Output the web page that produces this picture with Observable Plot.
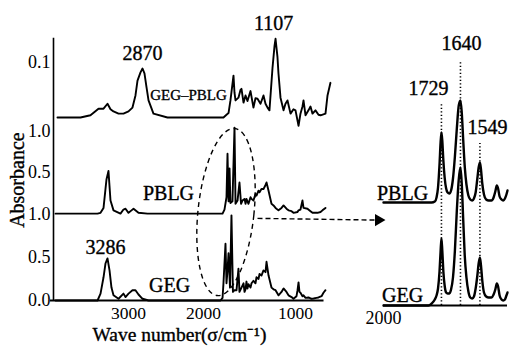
<!DOCTYPE html>
<html><head><meta charset="utf-8">
<script src="https://cdn.jsdelivr.net/npm/d3@7"></script>
<script src="https://cdn.jsdelivr.net/npm/@observablehq/plot@0.6"></script>
<style>
body{margin:0;background:#fff;}
#wrap{position:relative;width:511px;height:352px;overflow:hidden;}
#wrap svg{position:absolute;top:0;}
</style></head><body><div id="wrap"></div>
<script>
// ---- Main panel data (wave number cm^-1, absorbance) ----
const gegWn  = [3973,3413,3373,3333,3307,3280,3253,3227,3200,3133,3067,3040,3000,2947,2907,2867,2813,2733,1815,1793,1783,1761,1750,1739,1728,1712,1696,1680,1663,1641,1620,1609,1587,1565,1554,1543,1533,1522,1511,1489,1478,1457,1435,1424,1402,1391,1370,1348,1326,1315,1293,1261,1239,1217,1185,1152,1130,1098,1076,1043,1022,989,978,967,957,946,924,913,891,859,826,804,772,750,717,696,674];
const gegAbs = [0,0,0.08,0.27,0.43,0.49,0.35,0.15,0.06,0.02,0.08,0.04,0.08,0.12,0.12,0.07,0.02,0,0,0.03,0.2,0.66,0.2,0.35,0.55,0.15,0.99,0.1,0.12,0.12,0.37,0.1,0.15,0.2,0.1,0.13,0.22,0.14,0.19,0.15,0.2,0.23,0.2,0.27,0.25,0.31,0.29,0.35,0.33,0.45,0.29,0.15,0.13,0.12,0.06,0.1,0.14,0.1,0.06,0.04,0.02,0.05,0.12,0.21,0.1,0.09,0.05,0.06,0.03,0.035,0.02,0.023,0.03,0.035,0.05,0.09,0.12];

const pblgWn  = [3973,3413,3373,3333,3307,3293,3267,3240,3200,3107,3067,3040,3000,2960,2933,2867,2747,1793,1772,1750,1739,1728,1717,1707,1685,1663,1652,1630,1609,1592,1576,1554,1543,1533,1511,1489,1478,1457,1435,1424,1402,1391,1370,1348,1326,1315,1293,1261,1239,1217,1185,1152,1130,1098,1076,1043,1022,978,967,946,924,913,870,837,815,761,728,707,674];
const pblgAbs = [0,0,0.01,0.07,0.3,0.42,0.52,0.16,0.04,0,0.05,0.06,0.01,0.04,0.06,0.01,0,0,0.05,0.2,0.73,0.15,0.55,0.13,0.15,1.05,0.12,0.16,0.38,0.12,0.16,0.18,0.12,0.18,0.12,0.2,0.18,0.16,0.24,0.22,0.28,0.26,0.3,0.3,0.35,0.38,0.28,0.12,0.1,0.07,0.04,0.07,0.1,0.06,0.04,0.03,0.01,0.02,0.04,0.05,0.16,0.07,0.06,0.03,0.01,0.01,0.02,0.04,0.07];

const mixWn  = [3947,3640,3507,3400,3333,3280,3240,3200,3133,3067,3000,2947,2907,2880,2840,2813,2787,2760,2733,2667,2480,1783,1750,1728,1707,1674,1663,1652,1620,1598,1587,1565,1543,1522,1489,1457,1435,1413,1380,1348,1326,1304,1283,1250,1228,1217,1196,1185,1163,1130,1109,1087,1054,1022,1000,967,946,924,913,891,859,837,815,783,750,728,674,652,620];
const mixAbs = [0,0,0.004,0.016,0.016,0.025,0.015,0.011,0.007,0.007,0.011,0.018,0.04,0.067,0.082,0.089,0.08,0.055,0.031,0.007,0,0,0.005,0.008,0.031,0.076,0.045,0.031,0.036,0.05,0.052,0.027,0.04,0.03,0.048,0.018,0.035,0.034,0.025,0.04,0.025,0.018,0.013,0.09,0.13,0.143,0.11,0.08,0.036,0.013,0.025,0.031,0.007,0.015,0.013,-0.015,0.007,0.02,0.031,0.004,0.013,0.02,0.007,0.013,0.005,0.004,0.007,0.04,0.063];

// ---- Inset (expanded 2000–1420 cm^-1) ----
const insetWn  = [2000,1800,1790,1775,1760,1752,1745,1738,1733,1729,1725,1720,1714,1707,1700,1692,1684,1675,1666,1657,1648,1640,1634,1627,1620,1612,1603,1594,1585,1577,1569,1561,1555,1549,1544,1538,1530,1520,1508,1495,1485,1477,1470,1464,1457,1448,1440,1432,1425,1420];
const insetPblg = [0,0,0,0,0.01,0.05,0.15,0.38,0.6,0.7,0.62,0.42,0.25,0.14,0.1,0.09,0.12,0.24,0.46,0.74,0.97,1.02,0.9,0.62,0.36,0.18,0.07,0.03,0.02,0.04,0.1,0.24,0.35,0.4,0.33,0.19,0.08,0.03,0.02,0.02,0.05,0.11,0.17,0.14,0.06,0.03,0.02,0.04,0.08,0.12];
const insetGeg  = [0,0,0,0.02,0.06,0.1,0.17,0.34,0.54,0.67,0.55,0.34,0.2,0.13,0.12,0.12,0.16,0.28,0.55,0.95,1.26,1.38,1.22,0.85,0.5,0.28,0.14,0.08,0.07,0.09,0.17,0.3,0.42,0.48,0.4,0.25,0.13,0.09,0.08,0.08,0.11,0.16,0.22,0.19,0.1,0.06,0.05,0.06,0.1,0.13];
const insetPeaks = [1729, 1640, 1549];
const insetPeakText = ["1729", "1640", "1549"];

// ---- Axis tick labels ----
const xTicks = [3000, 2000, 1000];
const yTickText = ["0.0", "0.5", "1.0", "0.5", "1.0", "0.1"];

// stacking of the three spectra (vertical offsets in plot units)
const stack = {geg: {off: 0, k: 1}, pblg: {off: 1.01, k: 0.953}, mix: {off: 2.128, k: 6.4}};
const rows = (wn, ab, s) => wn.map((w, i) => ({x: w, y: s.off + s.k * ab[i]}));
const yTickVals = [0, 0.5, 1.0, stack.pblg.off + 0.5 * stack.pblg.k, stack.pblg.off + 1.0 * stack.pblg.k, stack.mix.off + 0.1 * stack.mix.k];
const yLab = new Map(yTickVals.map((v, i) => [v, yTickText[i]]));

const font = "Liberation Serif, Times New Roman, serif";
const lw = 1.9;
const ink = {fill: "black", stroke: "black", strokeWidth: 0.35};

const main = Plot.plot({
  width: 511, height: 352,
  marginLeft: 53, marginRight: 179, marginTop: 0, marginBottom: 52,
  style: {fontFamily: font, fontSize: "18px", color: "#000", background: "white"},
  x: {type: "linear", domain: [4000, 3000, 2000, 1000, 600], range: [53, 128, 203, 295, 331.8]},
  y: {domain: [0, 300 / 86], range: [300, 0]},
  marks: [
    Plot.ruleY([0], {x1: 4040, x2: 690, stroke: "black", strokeWidth: 1.9}),
    Plot.ruleX([4000], {y1: 0, y2: 3.05, stroke: "black", strokeWidth: 1.6}),
    Plot.axisX({ticks: xTicks, tickSize: 0, tickPadding: 6, fontSize: 17.5, label: null, tickFormat: d => String(d), ...ink}),
    Plot.axisY({ticks: yTickVals, tickSize: 0, tickPadding: 3, fontSize: 18, label: null, tickFormat: d => yLab.get(d), ...ink}),
    Plot.line(rows(gegWn, gegAbs, stack.geg), {x: "x", y: "y", stroke: "black", strokeWidth: lw, strokeLinejoin: "round"}),
    Plot.line(rows(pblgWn, pblgAbs, stack.pblg), {x: "x", y: "y", stroke: "black", strokeWidth: lw, strokeLinejoin: "round"}),
    Plot.line(rows(mixWn, mixAbs, stack.mix), {x: "x", y: "y", stroke: "black", strokeWidth: lw, strokeLinejoin: "round"}),
    Plot.link([{x1: 1413, y1: 0.955, x2: 110, y2: 0.935}], {x1: "x1", y1: "y1", x2: "x2", y2: "y2", stroke: "black", strokeWidth: 1.4, strokeDasharray: "5,3"}),
    Plot.dot([{x: 98, y: 0.935}], {x: "x", y: "y", symbol: "triangle", r: 4.5, fill: "black", stroke: "none", rotate: 90}),
    Plot.text([{t: "3286", x: 3307, y: 0.616}, {t: "2870", x: 2813, y: 2.872}, {t: "1107", x: 1239, y: 3.22}],
      {x: "x", y: "y", text: "t", fontSize: 20, ...ink}),
    Plot.text([{t: "GEG–PBLG", x: 2200, y: 2.384, s: 15}, {t: "PBLG", x: 2467, y: 1.244, s: 20}, {t: "GEG", x: 2453, y: 0.174, s: 20}],
      {x: "x", y: "y", text: "t", fontSize: "s", ...ink}),
    Plot.text(["Absorbance"], {x: 4480, y: 1.40, text: d => d, rotate: -90, fontSize: 20, ...ink}),
    Plot.text(["Wave number(σ/cm⁻¹)"], {x: 2320, y: -0.40, text: d => d, fontSize: 19.5, ...ink})
  ]
});

// dashed ellipse marking the expanded region, placed through the plot's scales
const sx = main.scale("x"), sy = main.scale("y");
const cx = sx.apply(1750), cy = sy.apply(1.023);
d3.select(main).append("ellipse")
  .attr("cx", cx).attr("cy", cy).attr("rx", 28).attr("ry", 84)
  .attr("transform", `rotate(6 ${cx} ${cy})`)
  .attr("fill", "none").attr("stroke", "black").attr("stroke-width", 1.4).attr("stroke-dasharray", "5,4");

const inset = Plot.plot({
  width: 171, height: 352,
  marginLeft: 43, marginRight: 4, marginTop: 0, marginBottom: 47,
  style: {fontFamily: font, fontSize: "18px", color: "#000", background: "transparent", overflow: "visible"},
  x: {domain: [2000, 1420], range: [43, 167]},
  y: {domain: [0, 3.05], range: [305, 0], axis: null},
  marks: [
    Plot.ruleY([0], {x1: 2000, x2: 1420, stroke: "black", strokeWidth: 1.9}),
    Plot.ruleX(insetPeaks, {y1: 0, y2: [2.02, 2.45, 1.62], stroke: "black", strokeWidth: 1.6, strokeDasharray: "1.2,2.3"}),
    Plot.axisX({ticks: [2000], tickSize: 0, tickPadding: 6, fontSize: 18, label: null, tickFormat: d => String(d), ...ink}),
    Plot.line(insetWn.map((w, i) => ({x: w, y: 1.03 + insetPblg[i]})), {x: "x", y: "y", stroke: "black", strokeWidth: 2.4, strokeLinejoin: "round", curve: "monotone-x"}),
    Plot.line(insetWn.map((w, i) => ({x: w, y: insetGeg[i]})), {x: "x", y: "y", stroke: "black", strokeWidth: 2.4, strokeLinejoin: "round", curve: "monotone-x"}),
    Plot.text(insetPeakText.map((t, i) => ({t, x: [1790, 1635, 1514][i], y: [2.17, 2.62, 1.78][i]})), {x: "x", y: "y", text: "t", fontSize: 20, ...ink}),
    Plot.text([{t: "PBLG", x: 1911, y: 1.12}, {t: "GEG", x: 1911, y: 0.10}], {x: "x", y: "y", text: "t", fontSize: 20, ...ink})
  ]
});
inset.style.left = "340px";

const wrap = document.getElementById("wrap");
wrap.appendChild(main);
wrap.appendChild(inset);
</script>
</body></html>
